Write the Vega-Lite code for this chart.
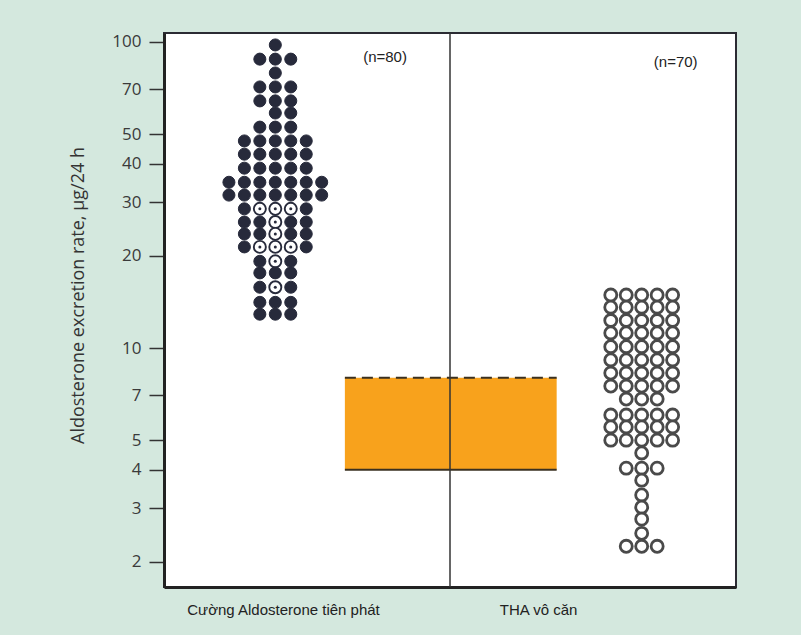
{
  "$schema": "https://vega.github.io/schema/vega-lite/v6.json",
  "width": 572,
  "height": 554,
  "autosize": {"type": "none"},
  "padding": {"left": 164, "top": 33, "right": 65, "bottom": 48},
  "background": "#d4e8de",
  "config": {
    "view": {"stroke": "#2b2b33", "strokeWidth": 2, "fill": "white"},
    "font": "Open Sans"
  },
  "datasets": {
    "dots": [
      {"g": "A", "x": 7.2, "v": 97.8, "k": "filled"},
      {"g": "A", "x": 6.2, "v": 87.9, "k": "filled"}, {"g": "A", "x": 7.2, "v": 87.9, "k": "filled"}, {"g": "A", "x": 8.2, "v": 87.9, "k": "filled"},
      {"g": "A", "x": 7.2, "v": 79.2, "k": "filled"},
      {"g": "A", "x": 6.2, "v": 71.3, "k": "filled"}, {"g": "A", "x": 7.2, "v": 71.3, "k": "filled"}, {"g": "A", "x": 8.2, "v": 71.3, "k": "filled"},
      {"g": "A", "x": 6.2, "v": 64.2, "k": "filled"}, {"g": "A", "x": 7.2, "v": 64.2, "k": "filled"}, {"g": "A", "x": 8.2, "v": 64.2, "k": "filled"},
      {"g": "A", "x": 7.2, "v": 58.6, "k": "filled"}, {"g": "A", "x": 8.2, "v": 58.6, "k": "filled"},
      {"g": "A", "x": 6.2, "v": 52.7, "k": "filled"}, {"g": "A", "x": 7.2, "v": 52.7, "k": "filled"}, {"g": "A", "x": 8.2, "v": 52.7, "k": "filled"},
      {"g": "A", "x": 5.2, "v": 47.5, "k": "filled"}, {"g": "A", "x": 6.2, "v": 47.5, "k": "filled"}, {"g": "A", "x": 7.2, "v": 47.5, "k": "filled"}, {"g": "A", "x": 8.2, "v": 47.5, "k": "filled"}, {"g": "A", "x": 9.2, "v": 47.5, "k": "filled"},
      {"g": "A", "x": 5.2, "v": 43.0, "k": "filled"}, {"g": "A", "x": 6.2, "v": 43.0, "k": "filled"}, {"g": "A", "x": 7.2, "v": 43.0, "k": "filled"}, {"g": "A", "x": 8.2, "v": 43.0, "k": "filled"}, {"g": "A", "x": 9.2, "v": 43.0, "k": "filled"},
      {"g": "A", "x": 5.2, "v": 38.7, "k": "filled"}, {"g": "A", "x": 6.2, "v": 38.7, "k": "filled"}, {"g": "A", "x": 7.2, "v": 38.7, "k": "filled"}, {"g": "A", "x": 8.2, "v": 38.7, "k": "filled"}, {"g": "A", "x": 9.2, "v": 38.7, "k": "filled"},
      {"g": "A", "x": 4.2, "v": 34.8, "k": "filled"}, {"g": "A", "x": 5.2, "v": 34.8, "k": "filled"}, {"g": "A", "x": 6.2, "v": 34.8, "k": "filled"}, {"g": "A", "x": 7.2, "v": 34.8, "k": "filled"}, {"g": "A", "x": 8.2, "v": 34.8, "k": "filled"}, {"g": "A", "x": 9.2, "v": 34.8, "k": "filled"}, {"g": "A", "x": 10.2, "v": 34.8, "k": "filled"},
      {"g": "A", "x": 4.2, "v": 31.6, "k": "filled"}, {"g": "A", "x": 5.2, "v": 31.6, "k": "filled"}, {"g": "A", "x": 6.2, "v": 31.6, "k": "filled"}, {"g": "A", "x": 7.2, "v": 31.6, "k": "filled"}, {"g": "A", "x": 8.2, "v": 31.6, "k": "filled"}, {"g": "A", "x": 9.2, "v": 31.6, "k": "filled"}, {"g": "A", "x": 10.2, "v": 31.6, "k": "filled"},
      {"g": "A", "x": 5.2, "v": 28.5, "k": "filled"}, {"g": "A", "x": 6.2, "v": 28.5, "k": "dotted"}, {"g": "A", "x": 7.2, "v": 28.5, "k": "dotted"}, {"g": "A", "x": 8.2, "v": 28.5, "k": "dotted"}, {"g": "A", "x": 9.2, "v": 28.5, "k": "filled"},
      {"g": "A", "x": 5.2, "v": 25.8, "k": "filled"}, {"g": "A", "x": 6.2, "v": 25.8, "k": "filled"}, {"g": "A", "x": 7.2, "v": 25.8, "k": "dotted"}, {"g": "A", "x": 8.2, "v": 25.8, "k": "filled"}, {"g": "A", "x": 9.2, "v": 25.8, "k": "filled"},
      {"g": "A", "x": 5.2, "v": 23.6, "k": "filled"}, {"g": "A", "x": 6.2, "v": 23.6, "k": "filled"}, {"g": "A", "x": 7.2, "v": 23.6, "k": "dotted"}, {"g": "A", "x": 8.2, "v": 23.6, "k": "filled"}, {"g": "A", "x": 9.2, "v": 23.6, "k": "filled"},
      {"g": "A", "x": 5.2, "v": 21.4, "k": "filled"}, {"g": "A", "x": 6.2, "v": 21.4, "k": "dotted"}, {"g": "A", "x": 7.2, "v": 21.4, "k": "dotted"}, {"g": "A", "x": 8.2, "v": 21.4, "k": "dotted"}, {"g": "A", "x": 9.2, "v": 21.4, "k": "filled"},
      {"g": "A", "x": 6.2, "v": 19.2, "k": "filled"}, {"g": "A", "x": 7.2, "v": 19.2, "k": "dotted"}, {"g": "A", "x": 8.2, "v": 19.2, "k": "filled"},
      {"g": "A", "x": 6.2, "v": 17.6, "k": "filled"}, {"g": "A", "x": 7.2, "v": 17.6, "k": "filled"}, {"g": "A", "x": 8.2, "v": 17.6, "k": "filled"},
      {"g": "A", "x": 6.2, "v": 15.8, "k": "filled"}, {"g": "A", "x": 7.2, "v": 15.8, "k": "dotted"}, {"g": "A", "x": 8.2, "v": 15.8, "k": "filled"},
      {"g": "A", "x": 6.2, "v": 14.1, "k": "filled"}, {"g": "A", "x": 7.2, "v": 14.1, "k": "filled"}, {"g": "A", "x": 8.2, "v": 14.1, "k": "filled"},
      {"g": "A", "x": 6.2, "v": 12.9, "k": "filled"}, {"g": "A", "x": 7.2, "v": 12.9, "k": "filled"}, {"g": "A", "x": 8.2, "v": 12.9, "k": "filled"},
      {"g": "B", "x": 28.9, "v": 14.9, "k": "open"}, {"g": "B", "x": 29.9, "v": 14.9, "k": "open"}, {"g": "B", "x": 30.9, "v": 14.9, "k": "open"}, {"g": "B", "x": 31.9, "v": 14.9, "k": "open"}, {"g": "B", "x": 32.9, "v": 14.9, "k": "open"},
      {"g": "B", "x": 28.9, "v": 13.6, "k": "open"}, {"g": "B", "x": 29.9, "v": 13.6, "k": "open"}, {"g": "B", "x": 30.9, "v": 13.6, "k": "open"}, {"g": "B", "x": 31.9, "v": 13.6, "k": "open"}, {"g": "B", "x": 32.9, "v": 13.6, "k": "open"},
      {"g": "B", "x": 28.9, "v": 12.3, "k": "open"}, {"g": "B", "x": 29.9, "v": 12.3, "k": "open"}, {"g": "B", "x": 30.9, "v": 12.3, "k": "open"}, {"g": "B", "x": 31.9, "v": 12.3, "k": "open"}, {"g": "B", "x": 32.9, "v": 12.3, "k": "open"},
      {"g": "B", "x": 28.9, "v": 11.2, "k": "open"}, {"g": "B", "x": 29.9, "v": 11.2, "k": "open"}, {"g": "B", "x": 30.9, "v": 11.2, "k": "open"}, {"g": "B", "x": 31.9, "v": 11.2, "k": "open"}, {"g": "B", "x": 32.9, "v": 11.2, "k": "open"},
      {"g": "B", "x": 28.9, "v": 10.1, "k": "open"}, {"g": "B", "x": 29.9, "v": 10.1, "k": "open"}, {"g": "B", "x": 30.9, "v": 10.1, "k": "open"}, {"g": "B", "x": 31.9, "v": 10.1, "k": "open"}, {"g": "B", "x": 32.9, "v": 10.1, "k": "open"},
      {"g": "B", "x": 28.9, "v": 9.14, "k": "open"}, {"g": "B", "x": 29.9, "v": 9.14, "k": "open"}, {"g": "B", "x": 30.9, "v": 9.14, "k": "open"}, {"g": "B", "x": 31.9, "v": 9.14, "k": "open"}, {"g": "B", "x": 32.9, "v": 9.14, "k": "open"},
      {"g": "B", "x": 28.9, "v": 8.28, "k": "open"}, {"g": "B", "x": 29.9, "v": 8.28, "k": "open"}, {"g": "B", "x": 30.9, "v": 8.28, "k": "open"}, {"g": "B", "x": 31.9, "v": 8.28, "k": "open"}, {"g": "B", "x": 32.9, "v": 8.28, "k": "open"},
      {"g": "B", "x": 28.9, "v": 7.51, "k": "open"}, {"g": "B", "x": 29.9, "v": 7.51, "k": "open"}, {"g": "B", "x": 30.9, "v": 7.51, "k": "open"}, {"g": "B", "x": 31.9, "v": 7.51, "k": "open"}, {"g": "B", "x": 32.9, "v": 7.51, "k": "open"},
      {"g": "B", "x": 29.9, "v": 6.81, "k": "open"}, {"g": "B", "x": 30.9, "v": 6.81, "k": "open"}, {"g": "B", "x": 31.9, "v": 6.81, "k": "open"},
      {"g": "B", "x": 28.9, "v": 6.04, "k": "open"}, {"g": "B", "x": 29.9, "v": 6.04, "k": "open"}, {"g": "B", "x": 30.9, "v": 6.04, "k": "open"}, {"g": "B", "x": 31.9, "v": 6.04, "k": "open"}, {"g": "B", "x": 32.9, "v": 6.04, "k": "open"},
      {"g": "B", "x": 28.9, "v": 5.52, "k": "open"}, {"g": "B", "x": 29.9, "v": 5.52, "k": "open"}, {"g": "B", "x": 30.9, "v": 5.52, "k": "open"}, {"g": "B", "x": 31.9, "v": 5.52, "k": "open"}, {"g": "B", "x": 32.9, "v": 5.52, "k": "open"},
      {"g": "B", "x": 28.9, "v": 5.0, "k": "open"}, {"g": "B", "x": 29.9, "v": 5.0, "k": "open"}, {"g": "B", "x": 30.9, "v": 5.0, "k": "open"}, {"g": "B", "x": 31.9, "v": 5.0, "k": "open"}, {"g": "B", "x": 32.9, "v": 5.0, "k": "open"},
      {"g": "B", "x": 30.9, "v": 4.54, "k": "open"},
      {"g": "B", "x": 29.9, "v": 4.05, "k": "open"}, {"g": "B", "x": 30.9, "v": 4.05, "k": "open"}, {"g": "B", "x": 31.9, "v": 4.05, "k": "open"},
      {"g": "B", "x": 30.9, "v": 3.7, "k": "open"},
      {"g": "B", "x": 30.9, "v": 3.31, "k": "open"},
      {"g": "B", "x": 30.9, "v": 3.02, "k": "open"},
      {"g": "B", "x": 30.9, "v": 2.76, "k": "open"},
      {"g": "B", "x": 30.9, "v": 2.48, "k": "open"},
      {"g": "B", "x": 29.9, "v": 2.25, "k": "open"}, {"g": "B", "x": 30.9, "v": 2.25, "k": "open"}, {"g": "B", "x": 31.9, "v": 2.25, "k": "open"}
    ],
    "band": [{"x": 11.7, "x2": 25.4, "lo": 4, "hi": 8}],
    "divider": [{"x": 18.5}],
    "notes": [{"x": 14.3, "v": 89.3, "t": "(n=80)"}, {"x": 33.1, "v": 86.2, "t": "(n=70)"}]
  },
  "layer": [
    {
      "data": {"name": "band"},
      "mark": {"type": "rect", "color": "#f8a21c"},
      "encoding": {
        "x": {
          "field": "x", "type": "quantitative",
          "scale": {"domain": [0, 37], "nice": false, "zero": false},
          "axis": {
            "values": [7.7, 24.2],
            "labelExpr": "datum.value < 15 ? 'Cường Aldosterone tiên phát' : 'THA vô căn'",
            "ticks": false, "grid": false, "title": null,
            "domainColor": "#222", "domainWidth": 3,
            "labelFont": "Liberation Sans", "labelFontSize": 15, "labelColor": "#222",
            "labelPadding": 15, "labelLimit": 400, "labelOverlap": false
          }
        },
        "x2": {"field": "x2"},
        "y": {
          "field": "hi", "type": "quantitative",
          "scale": {"type": "log", "domain": [1.656, 107], "nice": false, "zero": false},
          "axis": {
            "values": [2, 3, 4, 5, 7, 10, 20, 30, 40, 50, 70, 100],
            "format": "d", "grid": false,
            "title": "Aldosterone excretion rate, μg/24 h",
            "titleFontSize": 18, "titleFontWeight": "normal", "titleColor": "#333", "titlePadding": 24,
            "titleY": 262,
            "labelFontSize": 17, "labelColor": "#3a3a3a", "labelPadding": 8,
            "tickColor": "#333", "tickSize": 15, "tickWidth": 1.5,
            "domainColor": "#222", "domainWidth": 3
          }
        },
        "y2": {"field": "lo"}
      }
    },
    {
      "data": {"name": "band"},
      "mark": {"type": "rule", "color": "#3a3020", "strokeWidth": 2, "strokeDash": [11, 6]},
      "encoding": {
        "x": {"field": "x", "type": "quantitative"},
        "x2": {"field": "x2"},
        "y": {"field": "hi", "type": "quantitative"}
      }
    },
    {
      "data": {"name": "band"},
      "mark": {"type": "rule", "color": "#3a3020", "strokeWidth": 2},
      "encoding": {
        "x": {"field": "x", "type": "quantitative"},
        "x2": {"field": "x2"},
        "y": {"field": "lo", "type": "quantitative"}
      }
    },
    {
      "data": {"name": "divider"},
      "mark": {"type": "rule", "color": "#333", "strokeWidth": 1.5},
      "encoding": {"x": {"field": "x", "type": "quantitative"}}
    },
    {
      "data": {"name": "dots"},
      "mark": {"type": "point", "shape": "circle", "filled": false, "size": 145, "opacity": 1},
      "encoding": {
        "x": {"field": "x", "type": "quantitative"},
        "y": {"field": "v", "type": "quantitative"},
        "fill": {"field": "k", "type": "nominal", "scale": {"domain": ["filled", "dotted", "open"], "range": ["#272a3b", "#ffffff", "#ffffff"]}, "legend": null},
        "stroke": {"field": "k", "type": "nominal", "scale": {"domain": ["filled", "dotted", "open"], "range": ["#272a3b", "#272a3b", "#4a4a4a"]}, "legend": null},
        "strokeWidth": {"field": "k", "type": "nominal", "scale": {"domain": ["filled", "dotted", "open"], "range": [1, 2.8, 1.8]}, "legend": null}
      }
    },
    {
      "data": {"name": "dots"},
      "transform": [{"filter": "datum.k == 'dotted'"}],
      "mark": {"type": "point", "shape": "circle", "filled": true, "size": 9, "color": "#272a3b", "opacity": 1},
      "encoding": {
        "x": {"field": "x", "type": "quantitative"},
        "y": {"field": "v", "type": "quantitative"}
      }
    },
    {
      "data": {"name": "notes"},
      "mark": {"type": "text", "font": "Liberation Sans", "fontSize": 15, "color": "#222"},
      "encoding": {
        "x": {"field": "x", "type": "quantitative"},
        "y": {"field": "v", "type": "quantitative"},
        "text": {"field": "t"}
      }
    }
  ]
}
